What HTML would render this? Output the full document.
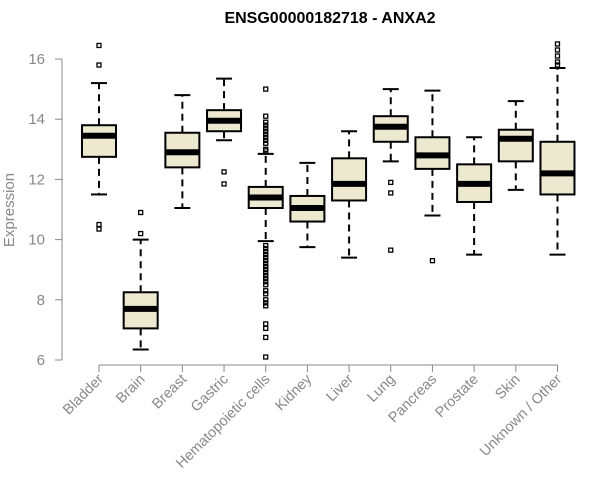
<!DOCTYPE html>
<html><head><meta charset="utf-8"><style>
body{margin:0;background:#fff;}
svg{display:block;font-family:"Liberation Sans",sans-serif;}
</style></head><body>
<svg id="chart" width="600" height="500">
<text x="330" y="23" text-anchor="middle" font-weight="bold" font-size="16">ENSG00000182718 - ANXA2</text>
<text transform="translate(14,210) rotate(-90)" text-anchor="middle" font-size="15" fill="#888">Expression</text>
<g id="yaxis"></g>
<g id="xaxis"></g>
<g id="boxes"></g>
</svg>
<script>
const categories=["Bladder","Brain","Breast","Gastric","Hematopoietic cells","Kidney","Liver","Lung","Pancreas","Prostate","Skin","Unknown / Other"];
const whiskerLow=[11.5,6.35,11.05,13.3,9.95,9.75,9.4,12.6,10.8,9.5,11.65,9.5];
const q1=[12.75,7.05,12.4,13.6,11.05,10.6,11.3,13.25,12.35,11.25,12.6,11.5];
const medians=[13.45,7.7,12.9,13.95,11.4,11.05,11.85,13.75,12.8,11.85,13.35,12.2];
const q3=[13.8,8.25,13.55,14.3,11.75,11.45,12.7,14.1,13.4,12.5,13.65,13.25];
const whiskerHigh=[15.2,10.0,14.8,15.35,12.85,12.55,13.6,15.0,14.95,13.4,14.6,15.7];
const outliers=[[16.45,15.8,10.5,10.35],[10.9,10.2],[],[12.25,11.85],
[15.0,14.1,13.9,13.8,13.7,13.6,13.5,13.4,13.3,13.2,13.0,12.95,9.8,9.7,9.6,9.5,9.4,9.3,9.2,9.1,9.0,8.9,8.8,8.7,8.6,8.5,8.3,8.2,8.0,7.9,7.8,7.2,7.05,6.75,6.1],
[],[],[11.9,11.55,9.65],[9.3],[],[],[16.5,16.3,16.1,15.9,15.8]];
const yTicks=[6,8,10,12,14,16];
const NS="http://www.w3.org/2000/svg";
function y(v){return 360-(v-6)*30.1;}
function x(i){return 99+i*41.68;}
function mk(tag,attrs,parent){const e=document.createElementNS(NS,tag);for(const k in attrs)e.setAttribute(k,attrs[k]);parent.appendChild(e);return e;}
const ya=document.getElementById('yaxis'),xa=document.getElementById('xaxis'),bx=document.getElementById('boxes');
let l=mk('line',{x1:62,x2:62,y1:y(16),y2:y(6),stroke:'#888'},ya);


yTicks.forEach(t=>{
 const tk=mk('line',{x1:55,x2:62,y1:y(t),y2:y(t),stroke:'#888'},ya);
 
 
 const tx=mk('text',{x:45,y:y(t)+5,'text-anchor':'end','font-size':15,fill:'#888'},ya);
 tx.textContent=t;
 
 
});
l=mk('line',{x1:x(0),x2:x(categories.length-1),y1:365,y2:365,stroke:'#888'},xa);


categories.forEach((c,i)=>{
 const cx=x(i);
 const tk=mk('line',{x1:cx,x2:cx,y1:365,y2:372,stroke:'#888'},xa);
 
 
 const tx=mk('text',{x:cx+5,y:380,'text-anchor':'end','font-size':14.5,fill:'#888',transform:`rotate(-45 ${cx+5} 380)`},xa);
 tx.textContent=c;
 
 
 const g=mk('g',{},bx);
 
 
 const hw=17,cw=8;
 mk('line',{x1:cx,x2:cx,y1:y(q3[i]),y2:y(whiskerHigh[i]),stroke:'#000','stroke-width':2,'stroke-dasharray':'7,5'},g);
 mk('line',{x1:cx,x2:cx,y1:y(q1[i]),y2:y(whiskerLow[i]),stroke:'#000','stroke-width':2,'stroke-dasharray':'7,5'},g);
 mk('line',{x1:cx-cw,x2:cx+cw,y1:y(whiskerHigh[i]),y2:y(whiskerHigh[i]),stroke:'#000','stroke-width':2},g);
 mk('line',{x1:cx-cw,x2:cx+cw,y1:y(whiskerLow[i]),y2:y(whiskerLow[i]),stroke:'#000','stroke-width':2},g);
 mk('rect',{x:cx-hw,y:y(q3[i]),width:2*hw,height:y(q1[i])-y(q3[i]),fill:'#ede8d0',stroke:'#000','stroke-width':2},g);
 mk('line',{x1:cx-hw,x2:cx+hw,y1:y(medians[i]),y2:y(medians[i]),stroke:'#000','stroke-width':6},g);
 outliers[i].forEach(o=>{mk('rect',{x:cx-2,y:y(o)-2,width:4,height:4,fill:'none',stroke:'#000','stroke-width':1.3},g);});
});
</script>
</body></html>
